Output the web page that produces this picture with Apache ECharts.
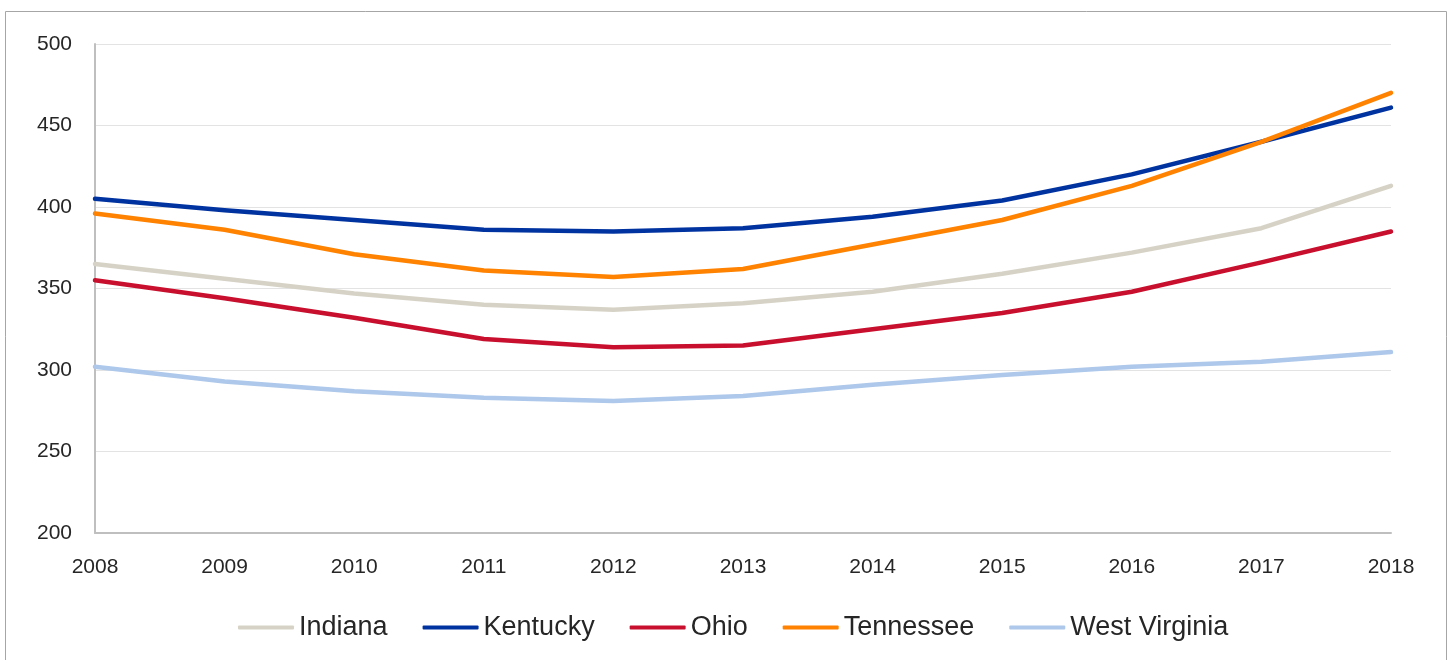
<!DOCTYPE html>
<html>
<head>
<meta charset="utf-8">
<style>
  html, body { margin: 0; padding: 0; background: #ffffff; }
  #chart { width: 1450px; height: 660px; }
</style>
<script src="https://cdn.jsdelivr.net/npm/echarts@6/dist/echarts.min.js"></script>
</head>
<body>
<div id="chart"></div>
<script>
// Years along the horizontal axis
const years = ['2008', '2009', '2010', '2011', '2012', '2013', '2014', '2015', '2016', '2017', '2018'];

// One value per year for each state
const indiana      = [365, 356, 347, 340, 337, 341, 348, 359, 372, 387, 413];
const kentucky     = [405, 398, 392, 386, 385, 387, 394, 404, 420, 440, 461];
const ohio         = [355, 344, 332, 319, 314, 315, 325, 335, 348, 366, 385];
const tennessee    = [396, 386, 371, 361, 357, 362, 377, 392, 413, 440, 470];
const westVirginia = [302, 293, 287, 283, 281, 284, 291, 297, 302, 305, 311];

// Vertical axis range and step
const yMin = 200;
const yMax = 500;
const yStep = 50;

const stateNames  = ['Indiana', 'Kentucky', 'Ohio', 'Tennessee', 'West Virginia'];
const stateValues = [indiana, kentucky, ohio, tennessee, westVirginia];
const stateColors = ['#d6d3c6', '#0033a0', '#c8102e', '#ff8200', '#adc8ea'];

const font = '"Liberation Sans", Arial, sans-serif';
const textColor = '#262626';

const chart = echarts.init(document.getElementById('chart'), null, { renderer: 'canvas' });

chart.setOption({
  animation: false,
  backgroundColor: '#ffffff',
  graphic: [{
    type: 'rect',
    silent: true,
    shape: { x: 5.5, y: 11.5, width: 1441, height: 660 },
    style: { fill: 'none', stroke: '#a6a6a6', lineWidth: 1 }
  }],
  grid: { left: 95, right: 59, top: 44, bottom: 127, containLabel: false },
  legend: {
    data: stateNames,
    left: 233,
    top: 609,
    icon: 'roundRect',
    itemWidth: 56,
    itemHeight: 4,
    itemGap: 35,
    textStyle: { fontFamily: font, fontSize: 27, color: textColor }
  },
  xAxis: {
    type: 'category',
    data: years,
    boundaryGap: false,
    axisLine: { show: true, lineStyle: { color: '#bfbfbf', width: 2 } },
    axisTick: { show: false },
    axisLabel: { fontFamily: font, fontSize: 21, color: textColor, margin: 24 },
    splitLine: { show: false }
  },
  yAxis: {
    type: 'value',
    min: yMin,
    max: yMax,
    interval: yStep,
    axisLine: { show: true, lineStyle: { color: '#bfbfbf', width: 2 } },
    axisTick: { show: false },
    axisLabel: { fontFamily: font, fontSize: 21, color: textColor, margin: 23 },
    splitLine: { show: true, lineStyle: { color: '#e3e3e3', width: 1 } }
  },
  series: stateNames.map((name, i) => ({
    name: name,
    type: 'line',
    data: stateValues[i],
    showSymbol: false,
    symbol: 'none',
    smooth: false,
    color: stateColors[i],
    lineStyle: { color: stateColors[i], width: 4.5, cap: 'round', join: 'round' },
    itemStyle: { color: stateColors[i] }
  }))
});
</script>
</body>
</html>
